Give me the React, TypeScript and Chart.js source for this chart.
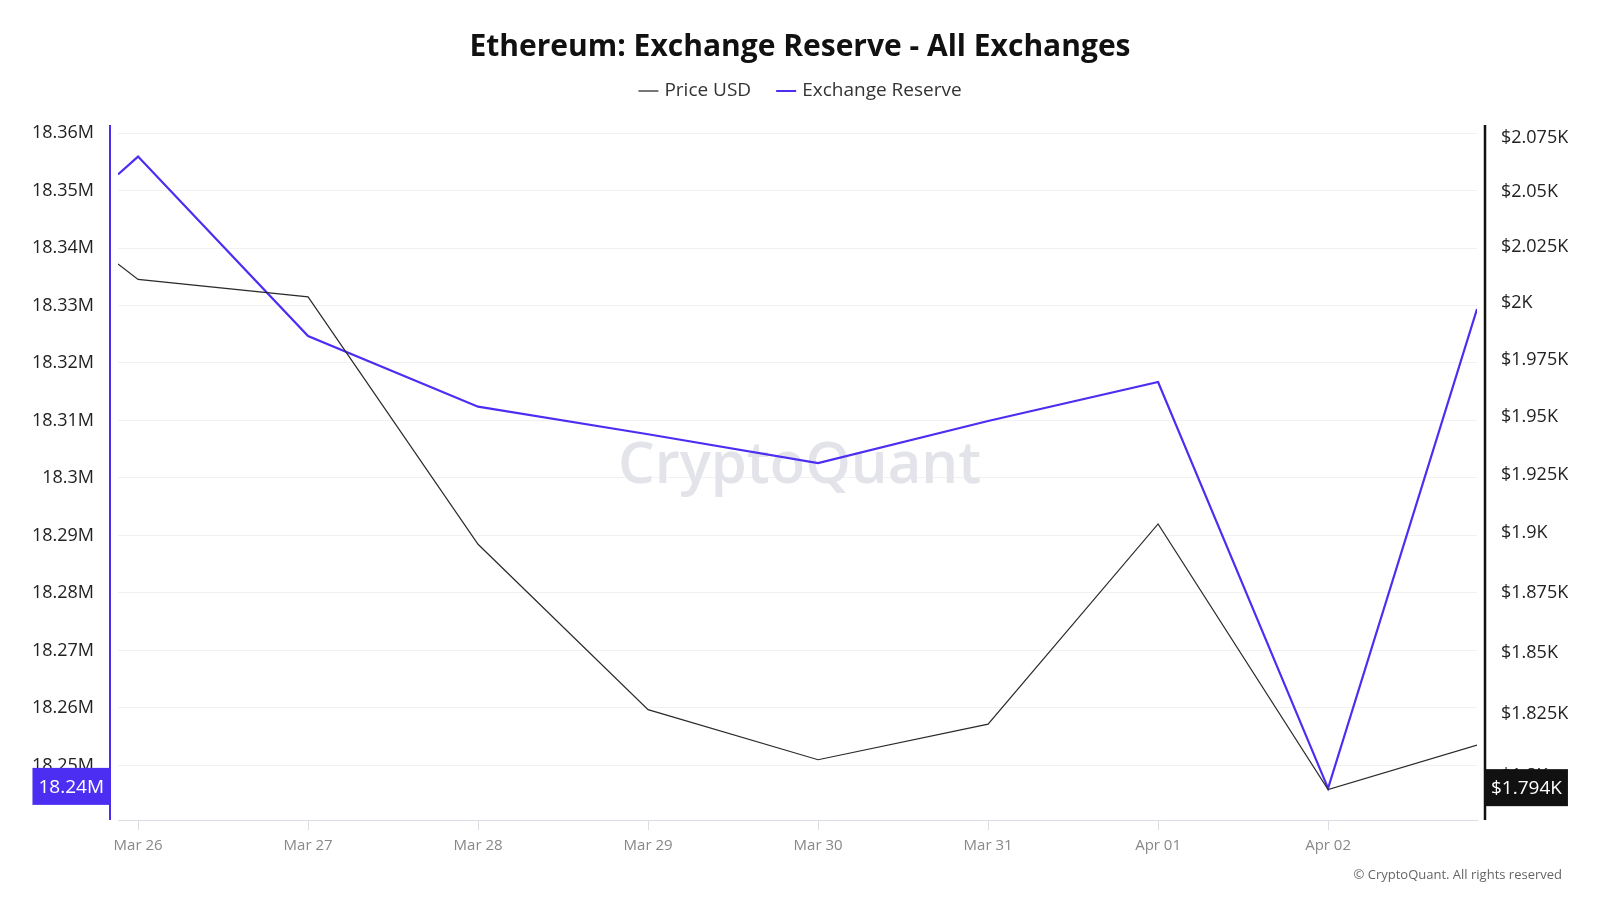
import { useEffect, useRef } from 'react';
import { Chart, registerables } from 'chart.js';

Chart.register(...registerables);

const FONT = '"Open Sans", "Noto Sans", sans-serif';

// day offsets from Mar 26 (edge points are where the visible window cuts the line)
const dayOffsets = [-0.118, 0, 1, 2, 3, 4, 5, 6, 7, 7.876];
const dayLabels = ['Mar 26', 'Mar 27', 'Mar 28', 'Mar 29', 'Mar 30', 'Mar 31', 'Apr 01', 'Apr 02'];
const priceUsd = [2017.5, 2010.6, 2002.8, 1895.3, 1826.7, 1806.4, 1820.8, 1903.9, 1794.4, 1812.3];
const exchangeReserve = [18352800, 18355900, 18324700, 18312400, 18307600, 18302600, 18309900, 18316700, 18246000, 18329400];
const reserveTicks = [18250000, 18260000, 18270000, 18280000, 18290000, 18300000, 18310000, 18320000, 18330000, 18340000, 18350000, 18360000];
const priceTicks = [1800, 1825, 1850, 1875, 1900, 1925, 1950, 1975, 2000, 2025, 2050, 2075];
const tagIndex = 8;
const tagLabels = ['18.24M', '$1.794K'];

const PURPLE = '#4b2ef2';
const DARK = '#2a2a2a';

const fmtM = (v: number) => parseFloat((v / 1e6).toFixed(2)) + 'M';
const fmtK = (v: number) => '$' + parseFloat((v / 1000).toFixed(3)) + 'K';

const decor = {
  id: 'decor',
  beforeDatasetsDraw(chart: Chart) {
    const { ctx, chartArea: a } = chart;
    ctx.save();
    ctx.font = `600 58px ${FONT}`;
    ctx.fillStyle = '#e3e3ea';
    ctx.textAlign = 'center';
    ctx.textBaseline = 'middle';
    ctx.fillText('CryptoQuant', (a.left + a.right) / 2 + 2, 466);
    ctx.restore();
  },
  afterDraw(chart: Chart) {
    const { ctx, chartArea: a, width } = chart;
    ctx.save();
    // title
    ctx.fillStyle = '#111';
    ctx.font = `bold 30px ${FONT}`;
    ctx.textAlign = 'center';
    ctx.textBaseline = 'middle';
    ctx.fillText('Ethereum: Exchange Reserve - All Exchanges', width / 2, 47);

    // legend
    ctx.font = `19px ${FONT}`;
    const items = [
      { label: 'Price USD', color: '#777' },
      { label: 'Exchange Reserve', color: PURPLE },
    ];
    const lineW = 20, gap = 6, spacing = 25;
    const widths = items.map(it => lineW + gap + ctx.measureText(it.label).width);
    const total = widths.reduce((s, w) => s + w, 0) + spacing * (items.length - 1);
    let x = width / 2 - total / 2;
    const ly = 91;
    ctx.textAlign = 'left';
    items.forEach((it, i) => {
      ctx.strokeStyle = it.color;
      ctx.lineWidth = 2;
      ctx.beginPath();
      ctx.moveTo(x, ly);
      ctx.lineTo(x + lineW, ly);
      ctx.stroke();
      ctx.fillStyle = '#333';
      ctx.fillText(it.label, x + lineW + gap, ly);
      x += widths[i] + spacing;
    });

    // axis lines, offset from the plot
    const lx = a.left - 8, rx = a.right + 8;
    ctx.lineWidth = 2;
    ctx.strokeStyle = PURPLE;
    ctx.beginPath();
    ctx.moveTo(lx, a.top);
    ctx.lineTo(lx, a.bottom);
    ctx.stroke();
    ctx.strokeStyle = '#111';
    ctx.lineWidth = 2.5;
    ctx.beginPath();
    ctx.moveTo(rx, a.top);
    ctx.lineTo(rx, a.bottom);
    ctx.stroke();

    // value tags
    ctx.font = `19px ${FONT}`;
    ctx.textBaseline = 'middle';
    ctx.textAlign = 'center';
    const yL = chart.scales.y.getPixelForValue(exchangeReserve[tagIndex]) - 2;
    const yR = chart.scales.y1.getPixelForValue(priceUsd[tagIndex]) - 2;
    const h = 37;
    const wL = ctx.measureText(tagLabels[0]).width + 12;
    ctx.fillStyle = PURPLE;
    ctx.fillRect(lx - wL, yL - h / 2, wL, h);
    ctx.fillStyle = '#fff';
    ctx.fillText(tagLabels[0], lx - wL / 2, yL + 1);
    const wR = ctx.measureText(tagLabels[1]).width + 12;
    ctx.fillStyle = '#111';
    ctx.fillRect(rx, yR - h / 2, wR, h);
    ctx.fillStyle = '#fff';
    ctx.fillText(tagLabels[1], rx + wR / 2, yR + 1);

    // copyright
    ctx.font = `13px ${FONT}`;
    ctx.fillStyle = '#666';
    ctx.textAlign = 'right';
    ctx.fillText('© CryptoQuant. All rights reserved', 1562, 875);
    ctx.restore();
  },
};

export default function App() {
  const ref = useRef<HTMLCanvasElement>(null);
  const ci = useRef<Chart | null>(null);

  useEffect(() => {
    document.body.style.margin = '0';
    if (!ref.current) return;
    ci.current?.destroy();
    ci.current = new Chart(ref.current, {
      type: 'line',
      data: {
        datasets: [
          {
            label: 'Price USD',
            data: dayOffsets.map((x, i) => ({ x, y: priceUsd[i] })),
            borderColor: DARK, borderWidth: 1.2, pointRadius: 0, tension: 0, yAxisID: 'y1',
          },
          {
            label: 'Exchange Reserve',
            data: dayOffsets.map((x, i) => ({ x, y: exchangeReserve[i] })),
            borderColor: PURPLE, borderWidth: 2.2, pointRadius: 0, tension: 0, yAxisID: 'y',
          },
        ],
      },
      options: {
        responsive: false, animation: false,
        layout: { padding: { top: 125, left: 0, right: 0, bottom: 0 } },
        plugins: { legend: { display: false }, title: { display: false }, tooltip: { enabled: false } },
        scales: {
          x: {
            type: 'linear', min: -0.118, max: 7.876,
            afterBuildTicks: (s: any) => { s.ticks = dayLabels.map((_, i) => ({ value: i })); },
            afterFit: (s: any) => { s.height = 80; },
            ticks: { callback: (v: any) => dayLabels[v] ?? '', color: '#888', font: { size: 15, family: FONT }, padding: 7, maxRotation: 0, autoSkip: false },
            grid: { drawOnChartArea: false, tickLength: 10, color: '#dcdce4' },
            border: { color: '#dcdce4' },
          },
          y: {
            position: 'left', min: 18240500, max: 18361400,
            afterBuildTicks: (s: any) => { s.ticks = reserveTicks.map(value => ({ value })); },
            afterFit: (s: any) => { s.width = 118; },
            ticks: { callback: (v: any) => fmtM(v), color: '#222', font: { size: 18, family: FONT }, padding: 24 },
            grid: { color: '#f1f1f4', drawTicks: false },
            border: { display: false },
          },
          y1: {
            type: 'logarithmic', position: 'right', min: 1782.3, max: 2081,
            afterBuildTicks: (s: any) => { s.ticks = priceTicks.map(value => ({ value })); },
            afterFit: (s: any) => { s.width = 123; },
            ticks: { callback: (v: any) => fmtK(v), color: '#222', font: { size: 18, family: FONT }, padding: 24 },
            grid: { display: false, drawTicks: false },
            border: { display: false },
          },
        },
      },
      plugins: [decor],
    });
    return () => { ci.current?.destroy(); ci.current = null; };
  }, []);

  return (
    <div style={{ width: 1600, height: 900, background: '#fff' }}>
      <canvas ref={ref} width={1600} height={900} style={{ width: 1600, height: 900 }} />
    </div>
  );
}
